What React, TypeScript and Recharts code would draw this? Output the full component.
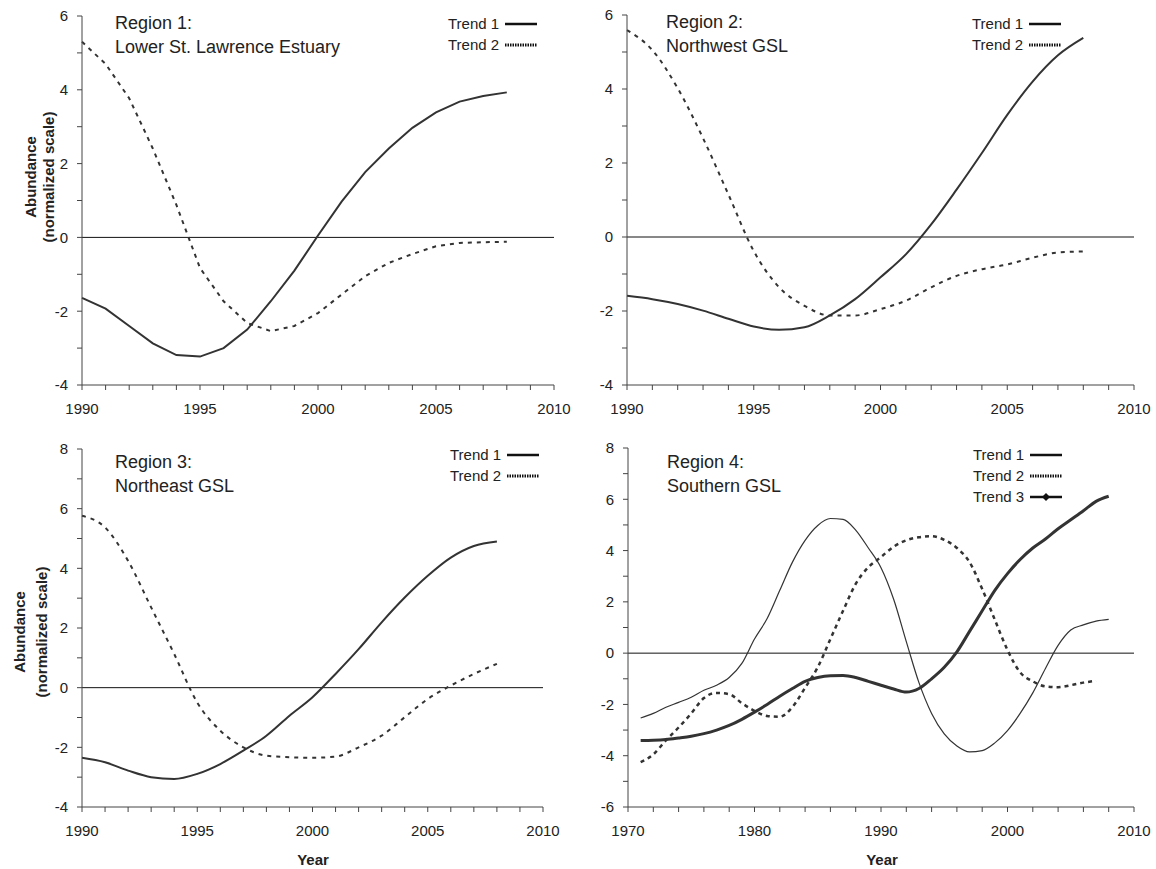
import React from 'react';
import { LineChart, Line, XAxis, YAxis, ReferenceLine, Legend } from 'recharts';

// ---- data ----
const years1990 = [1990, 1991, 1992, 1993, 1994, 1995, 1996, 1997, 1998, 1999, 2000, 2001, 2002, 2003, 2004, 2005, 2006, 2007, 2008];

const region1Trend1 = [-1.64, -1.93, -2.4, -2.87, -3.19, -3.23, -3.0, -2.5, -1.73, -0.9, 0.05, 0.97, 1.77, 2.41, 2.97, 3.39, 3.68, 3.83, 3.93];
const region1Trend2 = [5.3, 4.7, 3.77, 2.41, 0.88, -0.83, -1.73, -2.32, -2.54, -2.4, -2.05, -1.55, -1.05, -0.69, -0.45, -0.24, -0.15, -0.13, -0.12];

const region2Trend1 = [-1.59, -1.68, -1.81, -1.99, -2.21, -2.42, -2.51, -2.44, -2.12, -1.68, -1.09, -0.47, 0.34, 1.28, 2.27, 3.3, 4.2, 4.91, 5.38];
const region2Trend2 = [5.59, 5.05, 4.02, 2.67, 1.15, -0.38, -1.36, -1.86, -2.12, -2.12, -1.95, -1.72, -1.36, -1.05, -0.87, -0.74, -0.56, -0.42, -0.39];

const region3Trend1 = [-2.35, -2.5, -2.78, -3.0, -3.06, -2.89, -2.56, -2.11, -1.61, -0.94, -0.32, 0.46, 1.29, 2.19, 3.02, 3.75, 4.36, 4.75, 4.9];
const region3Trend2 = [5.76, 5.37, 4.25, 2.69, 1.13, -0.5, -1.44, -2.0, -2.28, -2.33, -2.35, -2.31, -2.0, -1.61, -0.99, -0.38, 0.07, 0.46, 0.8];

const years1971 = [
  1971, 1972, 1973, 1974, 1975, 1976, 1977, 1978, 1979, 1980, 1981, 1982, 1983, 1984, 1985, 1986, 1987, 1988, 1989,
  1990, 1991, 1992, 1993, 1994, 1995, 1996, 1997, 1998, 1999, 2000, 2001, 2002, 2003, 2004, 2005, 2006, 2007, 2008,
];
const region4Trend1 = [
  -3.41, -3.4, -3.37, -3.31, -3.24, -3.14, -3.0, -2.82, -2.58, -2.3, -2.0, -1.68, -1.38, -1.1, -0.95, -0.88, -0.87, -0.95, -1.1,
  -1.25, -1.4, -1.52, -1.38, -1.0, -0.55, 0.05, 0.85, 1.65, 2.45, 3.1, 3.65, 4.1, 4.45, 4.85, 5.2, 5.55, 5.92, 6.12,
];
const region4Trend2 = [
  -4.25, -3.95, -3.4, -2.9, -2.35, -1.75, -1.55, -1.6, -1.95, -2.25, -2.45, -2.48, -2.1, -1.35, -0.55, 0.55, 1.65, 2.7, 3.35,
  3.75, 4.15, 4.4, 4.52, 4.56, 4.42, 4.1, 3.55, 2.5, 1.3, 0.12, -0.75, -1.1, -1.3, -1.33, -1.25, -1.15, -1.08, null,
];
const region4Trend3 = [
  -2.53, -2.35, -2.11, -1.92, -1.72, -1.45, -1.25, -0.95, -0.4, 0.55, 1.35, 2.45, 3.55, 4.4, 4.98, 5.25, 5.22, 4.8, 4.1,
  3.33, 2.1, 0.45, -1.15, -2.35, -3.15, -3.62, -3.85, -3.8, -3.5, -3.02, -2.35, -1.55, -0.6, 0.3, 0.9, 1.1, 1.25, 1.32,
];

const xTicks1990 = [1990, 1991, 1992, 1993, 1994, 1995, 1996, 1997, 1998, 1999, 2000, 2001, 2002, 2003, 2004, 2005, 2006, 2007, 2008, 2009, 2010];
const xTicks1970 = [1970, 1972, 1974, 1976, 1978, 1980, 1982, 1984, 1986, 1988, 1990, 1992, 1994, 1996, 1998, 2000, 2002, 2004, 2006, 2008, 2010];
const yTicksTop = [-4, -3, -2, -1, 0, 1, 2, 3, 4, 5, 6];
const yTicksRegion3 = [-4, -3, -2, -1, 0, 1, 2, 3, 4, 5, 6, 7, 8];
const yTicksRegion4 = [-6, -5, -4, -3, -2, -1, 0, 1, 2, 3, 4, 5, 6, 7, 8];

const FONT = '"Liberation Sans", Arial, Helvetica, sans-serif';
const INK = '#222';
const LINE = '#333';

const toRows = (years: number[], a: (number | null)[], b: (number | null)[], c?: (number | null)[]) =>
  years.map((year, i) => ({ year, t1: a[i], t2: b[i], t3: c ? c[i] : null }));

const legendSamples: Record<string, { width: number; dash?: string; diamond?: boolean }> = {
  'Trend 1': { width: 2.5 },
  'Trend 2': { width: 3, dash: '1.5 1' },
  'Trend 3': { width: 2.5, diamond: true },
};

function LegendBox(props: any) {
  const payload = props.payload || [];
  return (
    <div style={{ fontFamily: FONT, fontSize: 15, color: INK }}>
      {payload.map((entry: any) => {
        const s = legendSamples[entry.value] || { width: 2 };
        return (
          <div key={entry.value} style={{ display: 'flex', alignItems: 'center', height: 21, whiteSpace: 'nowrap' }}>
            <span>{entry.value}</span>
            <svg width={32} height={10} style={{ marginLeft: 6 }}>
              <line x1={0} y1={5} x2={32} y2={5} stroke="#111" strokeWidth={s.width} strokeDasharray={s.dash} />
              {s.diamond && <polygon points="16,1 20,5 16,9 12,5" fill="#111" />}
            </svg>
          </div>
        );
      })}
    </div>
  );
}

type SeriesDef = { key: string; name: string; width: number; dash?: string };

type PanelProps = {
  left: number;
  top: number;
  width: number;
  height: number;
  margin: { top: number; right: number; bottom: number; left: number };
  yAxisWidth: number;
  data: any[];
  series: SeriesDef[];
  curve: 'linear' | 'monotone';
  xDomain: [number, number];
  xTicks: number[];
  xLabelStep: number;
  yDomain: [number, number];
  yTicks: number[];
  region: string[];
  regionPos: { left: number; top: number };
  legendPos: { left: number; top: number };
  yLabel?: { cx: number; cy: number; lineHeight: number };
  yearLabel?: { cx: number; cy: number };
};

function Panel(p: PanelProps) {
  return (
    <div style={{ position: 'absolute', left: p.left, top: p.top, width: p.width, height: p.height, fontFamily: FONT }}>
      <LineChart width={p.width} height={p.height} data={p.data} margin={p.margin}>
        <XAxis
          type="number"
          dataKey="year"
          domain={p.xDomain}
          ticks={p.xTicks}
          interval={0}
          tickFormatter={(v: number) => (v % p.xLabelStep === 0 ? String(v) : '')}
          tickSize={5}
          tickMargin={13}
          height={40}
          stroke="#444"
          tick={{ fill: INK, fontSize: 15 }}
        />
        <YAxis
          type="number"
          domain={p.yDomain}
          ticks={p.yTicks}
          interval={0}
          tickFormatter={(v: number) => (v % 2 === 0 ? String(v) : '')}
          tickSize={5}
          tickMargin={9}
          width={p.yAxisWidth}
          stroke="#444"
          tick={{ fill: INK, fontSize: 15 }}
        />
        <ReferenceLine y={0} stroke="#111" strokeWidth={1} />
        {p.series.map((s) => (
          <Line
            key={s.key}
            type={p.curve}
            dataKey={s.key}
            name={s.name}
            stroke={LINE}
            strokeWidth={s.width}
            strokeDasharray={s.dash}
            dot={false}
            activeDot={false}
            isAnimationActive={false}
          />
        ))}
        <Legend
          layout="vertical"
          align="center"
          verticalAlign="middle"
          content={LegendBox}
          wrapperStyle={{ left: p.legendPos.left, top: p.legendPos.top, width: 110, height: 'auto' }}
        />
      </LineChart>
      <div
        style={{
          position: 'absolute',
          left: p.regionPos.left,
          top: p.regionPos.top,
          fontSize: 18,
          lineHeight: '24px',
          color: INK,
          whiteSpace: 'nowrap',
        }}
      >
        {p.region.map((r) => (
          <div key={r}>{r}</div>
        ))}
      </div>
      {p.yLabel && (
        <div
          style={{
            position: 'absolute',
            left: p.yLabel.cx - 150,
            top: p.yLabel.cy - p.yLabel.lineHeight,
            width: 300,
            height: p.yLabel.lineHeight * 2,
            lineHeight: `${p.yLabel.lineHeight}px`,
            transform: 'rotate(-90deg)',
            textAlign: 'center',
            fontWeight: 'bold',
            fontSize: 15,
            color: INK,
          }}
        >
          <div>Abundance</div>
          <div>(normalized scale)</div>
        </div>
      )}
      {p.yearLabel && (
        <div
          style={{
            position: 'absolute',
            left: p.yearLabel.cx - 50,
            top: p.yearLabel.cy - 9,
            width: 100,
            height: 18,
            lineHeight: '18px',
            textAlign: 'center',
            fontWeight: 'bold',
            fontSize: 15,
            color: INK,
          }}
        >
          Year
        </div>
      )}
    </div>
  );
}

const twoTrends: SeriesDef[] = [
  { key: 't1', name: 'Trend 1', width: 2 },
  { key: 't2', name: 'Trend 2', width: 2, dash: '4 5' },
];
const threeTrends: SeriesDef[] = [
  { key: 't1', name: 'Trend 1', width: 3 },
  { key: 't2', name: 'Trend 2', width: 2.5, dash: '4 4' },
  { key: 't3', name: 'Trend 3', width: 1.2 },
];

export default function App() {
  return (
    <div style={{ position: 'absolute', left: 0, top: 0, width: 1156, height: 869, background: '#fff' }}>
      <Panel
        left={0}
        top={0}
        width={580}
        height={430}
        margin={{ top: 16, right: 26, bottom: 5, left: 22 }}
        yAxisWidth={60}
        data={toRows(years1990, region1Trend1, region1Trend2)}
        series={twoTrends}
        curve="linear"
        xDomain={[1990, 2010]}
        xTicks={xTicks1990}
        xLabelStep={5}
        yDomain={[-4, 6]}
        yTicks={yTicksTop}
        region={['Region 1:', 'Lower St. Lawrence Estuary']}
        regionPos={{ left: 115, top: 11 }}
        legendPos={{ left: 448, top: 13 }}
        yLabel={{ cx: 40, cy: 177, lineHeight: 18 }}
      />
      <Panel
        left={580}
        top={0}
        width={576}
        height={430}
        margin={{ top: 15, right: 22, bottom: 5, left: 0 }}
        yAxisWidth={47}
        data={toRows(years1990, region2Trend1, region2Trend2)}
        series={twoTrends}
        curve="monotone"
        xDomain={[1990, 2010]}
        xTicks={xTicks1990}
        xLabelStep={5}
        yDomain={[-4, 6]}
        yTicks={yTicksTop}
        region={['Region 2:', 'Northwest GSL']}
        regionPos={{ left: 86, top: 10 }}
        legendPos={{ left: 392, top: 13 }}
      />
      <Panel
        left={0}
        top={430}
        width={580}
        height={439}
        margin={{ top: 19, right: 37, bottom: 22, left: 22 }}
        yAxisWidth={60}
        data={toRows(years1990, region3Trend1, region3Trend2)}
        series={twoTrends}
        curve="monotone"
        xDomain={[1990, 2010]}
        xTicks={xTicks1990}
        xLabelStep={5}
        yDomain={[-4, 8]}
        yTicks={yTicksRegion3}
        region={['Region 3:', 'Northeast GSL']}
        regionPos={{ left: 115, top: 20 }}
        legendPos={{ left: 450, top: 14 }}
        yLabel={{ cx: 31, cy: 202, lineHeight: 22 }}
        yearLabel={{ cx: 313, cy: 430 }}
      />
      <Panel
        left={580}
        top={430}
        width={576}
        height={439}
        margin={{ top: 18, right: 22, bottom: 22, left: 0 }}
        yAxisWidth={48}
        data={toRows(years1971, region4Trend1, region4Trend2, region4Trend3)}
        series={threeTrends}
        curve="monotone"
        xDomain={[1970, 2010]}
        xTicks={xTicks1970}
        xLabelStep={10}
        yDomain={[-6, 8]}
        yTicks={yTicksRegion4}
        region={['Region 4:', 'Southern GSL']}
        regionPos={{ left: 87, top: 20 }}
        legendPos={{ left: 393, top: 14 }}
        yearLabel={{ cx: 302, cy: 430 }}
      />
    </div>
  );
}
